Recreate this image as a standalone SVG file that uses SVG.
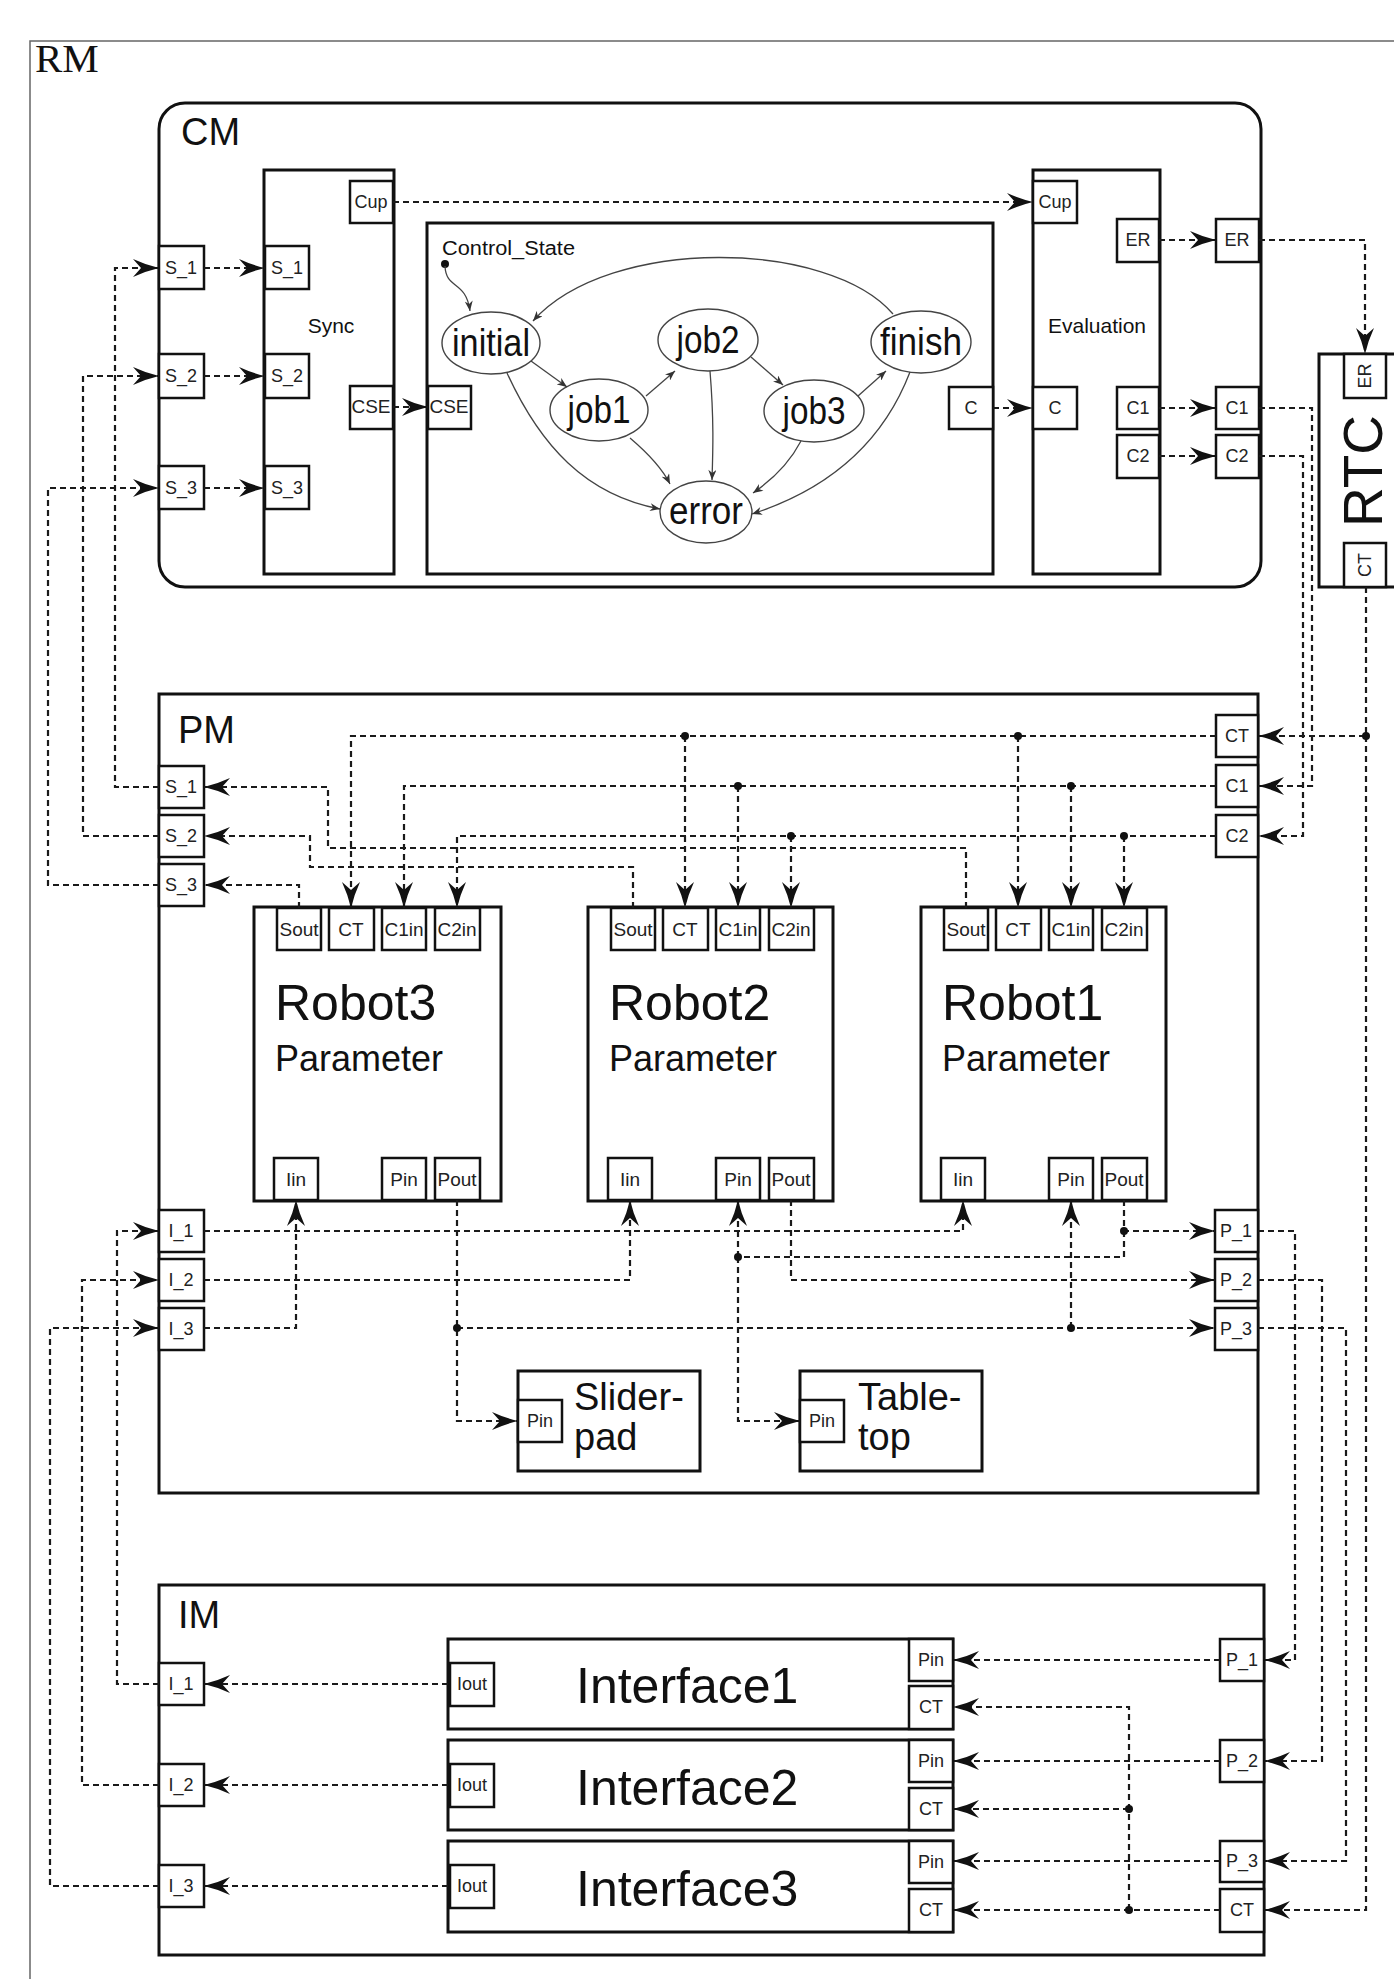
<svg xmlns="http://www.w3.org/2000/svg" width="1394" height="1979" viewBox="0 0 1394 1979">
<style>
.box{fill:#fff;stroke:#111;stroke-width:3}
.port{fill:#fff;stroke:#111;stroke-width:2.5}
.pt{font-family:"Liberation Sans",Arial,sans-serif;font-size:18px;text-anchor:middle;fill:#222}
.pr{font-family:"Liberation Sans",Arial,sans-serif;font-size:19px;text-anchor:middle;fill:#222}
.lbl{font-family:"Liberation Sans",Arial,sans-serif;fill:#111}
.dash{fill:none;stroke:#1a1a1a;stroke-width:2.2;stroke-dasharray:6 4}
.a{marker-end:url(#ah)}
.st{fill:#fff;stroke:#444;stroke-width:1.4}
.tr{fill:none;stroke:#444;stroke-width:1.3;marker-end:url(#sa)}
.sl{font-family:"Liberation Sans",Arial,sans-serif;font-size:38px;text-anchor:middle;fill:#111}
.dot{fill:#111}
</style>
<defs>
<marker id="ah" viewBox="0 0 26 18" refX="26" refY="9" markerWidth="26" markerHeight="18" markerUnits="userSpaceOnUse" orient="auto">
<path d="M0,0 Q13,6 26,9 Q13,12 0,18 L8,9 z" fill="#111"/>
</marker>
<marker id="sa" viewBox="0 0 10 8" refX="10" refY="4" markerWidth="11" markerHeight="8" markerUnits="userSpaceOnUse" orient="auto">
<path d="M0,0 L10,4 L0,8 L3,4 z" fill="#333"/>
</marker>
</defs>
<rect width="1394" height="1979" fill="#fff"/>

<g id="RM">
<rect x="30" y="41" width="1400" height="2000" fill="none" stroke="#666" stroke-width="1.5"/>
<text x="35" y="72" font-family="'Liberation Serif','Times New Roman',serif" font-size="41" fill="#111">RM</text>
</g>

<g id="CM">
<rect x="159" y="103" width="1102" height="484" rx="26" class="box"/>
<text x="181" y="145" class="lbl" font-size="38">CM</text>
<rect x="159" y="246" width="45" height="43" class="port"/><text x="181" y="274" class="pt">S_1</text>
<rect x="159" y="354" width="45" height="44" class="port"/><text x="181" y="382" class="pt">S_2</text>
<rect x="159" y="466" width="45" height="43" class="port"/><text x="181" y="494" class="pt">S_3</text>
<rect x="1216" y="219" width="43" height="43" class="port"/><text x="1237" y="246" class="pt">ER</text>
<rect x="1216" y="387" width="43" height="42" class="port"/><text x="1237" y="414" class="pt">C1</text>
<rect x="1216" y="435" width="43" height="43" class="port"/><text x="1237" y="462" class="pt">C2</text>
</g>

<g id="Sync">
<rect x="264" y="170" width="130" height="404" class="box"/>
<text x="331" y="333" class="lbl" font-size="21" text-anchor="middle">Sync</text>
<rect x="265" y="246" width="44" height="43" class="port"/><text x="287" y="274" class="pt">S_1</text>
<rect x="265" y="354" width="44" height="44" class="port"/><text x="287" y="382" class="pt">S_2</text>
<rect x="265" y="466" width="44" height="43" class="port"/><text x="287" y="494" class="pt">S_3</text>
<rect x="350" y="181" width="43" height="42" class="port"/><text x="371" y="208" class="pt">Cup</text>
<rect x="350" y="386" width="43" height="43" class="port"/><text x="371" y="413" class="pt" textLength="39" lengthAdjust="spacingAndGlyphs">CSE</text>
</g>

<g id="Control_State">
<rect x="427" y="223" width="566" height="351" class="box"/>
<text x="442" y="255" class="lbl" font-size="20" textLength="133" lengthAdjust="spacingAndGlyphs">Control_State</text>
<rect x="428" y="386" width="43" height="43" class="port"/><text x="449" y="413" class="pt" textLength="39" lengthAdjust="spacingAndGlyphs">CSE</text>
<rect x="949" y="387" width="44" height="42" class="port"/><text x="971" y="414" class="pt">C</text>
<circle cx="445" cy="264" r="4" class="dot"/>
<g id="state-initial"><ellipse cx="491" cy="343" rx="49" ry="31" class="st"/><text x="491" y="356" class="sl" textLength="78" lengthAdjust="spacingAndGlyphs">initial</text></g>
<g id="state-job1"><ellipse cx="599" cy="410" rx="49" ry="31" class="st"/><text x="599" y="423" class="sl" textLength="63" lengthAdjust="spacingAndGlyphs">job1</text></g>
<g id="state-job2"><ellipse cx="708" cy="340" rx="50" ry="31" class="st"/><text x="708" y="353" class="sl" textLength="63" lengthAdjust="spacingAndGlyphs">job2</text></g>
<g id="state-job3"><ellipse cx="814" cy="411" rx="50" ry="31" class="st"/><text x="814" y="424" class="sl" textLength="63" lengthAdjust="spacingAndGlyphs">job3</text></g>
<g id="state-finish"><ellipse cx="921" cy="342" rx="50" ry="31" class="st"/><text x="921" y="355" class="sl" textLength="82" lengthAdjust="spacingAndGlyphs">finish</text></g>
<g id="state-error"><ellipse cx="706" cy="512" rx="46" ry="31" class="st"/><text x="706" y="524" class="sl" textLength="74" lengthAdjust="spacingAndGlyphs">error</text></g>
</g>

<g id="Evaluation">
<rect x="1033" y="170" width="127" height="404" class="box"/>
<text x="1097" y="333" class="lbl" font-size="21" text-anchor="middle">Evaluation</text>
<rect x="1033" y="181" width="44" height="42" class="port"/><text x="1055" y="208" class="pt">Cup</text>
<rect x="1117" y="219" width="42" height="43" class="port"/><text x="1138" y="246" class="pt">ER</text>
<rect x="1033" y="387" width="44" height="42" class="port"/><text x="1055" y="414" class="pt">C</text>
<rect x="1117" y="387" width="42" height="42" class="port"/><text x="1138" y="414" class="pt">C1</text>
<rect x="1117" y="435" width="42" height="43" class="port"/><text x="1138" y="462" class="pt">C2</text>
</g>

<g id="RTC">
<rect x="1319" y="354" width="95" height="233" class="box"/>
<rect x="1344" y="354" width="42" height="44" class="port"/>
<text transform="translate(1371,376) rotate(-90)" class="pt" font-size="15">ER</text>
<rect x="1344" y="543" width="42" height="44" class="port"/>
<text transform="translate(1371,565) rotate(-90)" class="pt" font-size="15">CT</text>
<text transform="translate(1382,471) rotate(-90)" class="lbl" font-size="55" text-anchor="middle">RTC</text>
</g>

<g id="PM">
<rect x="159" y="694" width="1099" height="799" class="box"/>
<text x="178" y="743" class="lbl" font-size="38">PM</text>
<rect x="159" y="766" width="45" height="42" class="port"/><text x="181" y="793" class="pt">S_1</text>
<rect x="159" y="815" width="45" height="42" class="port"/><text x="181" y="842" class="pt">S_2</text>
<rect x="159" y="864" width="45" height="42" class="port"/><text x="181" y="891" class="pt">S_3</text>
<rect x="1216" y="715" width="42" height="42" class="port"/><text x="1237" y="742" class="pt">CT</text>
<rect x="1216" y="765" width="42" height="42" class="port"/><text x="1237" y="792" class="pt">C1</text>
<rect x="1216" y="815" width="42" height="42" class="port"/><text x="1237" y="842" class="pt">C2</text>
<rect x="159" y="1210" width="45" height="42" class="port"/><text x="181" y="1237" class="pt">I_1</text>
<rect x="159" y="1259" width="45" height="42" class="port"/><text x="181" y="1286" class="pt">I_2</text>
<rect x="159" y="1308" width="45" height="42" class="port"/><text x="181" y="1335" class="pt">I_3</text>
<rect x="1215" y="1210" width="43" height="42" class="port"/><text x="1236" y="1237" class="pt">P_1</text>
<rect x="1215" y="1259" width="43" height="42" class="port"/><text x="1236" y="1286" class="pt">P_2</text>
<rect x="1215" y="1308" width="43" height="42" class="port"/><text x="1236" y="1335" class="pt">P_3</text>
</g>

<g id="Robot3">
<rect x="254" y="907" width="247" height="294" class="box"/>
<text x="275" y="1020" class="lbl" font-size="50">Robot3</text>
<text x="275" y="1071" class="lbl" font-size="36">Parameter</text>
<rect x="277" y="908" width="44" height="42" class="port"/><text x="299" y="936" class="pr">Sout</text>
<rect x="329" y="908" width="45" height="42" class="port"/><text x="351" y="936" class="pr">CT</text>
<rect x="382" y="908" width="44" height="42" class="port"/><text x="404" y="936" class="pr">C1in</text>
<rect x="435" y="908" width="45" height="42" class="port"/><text x="457" y="936" class="pr">C2in</text>
<rect x="274" y="1158" width="44" height="42" class="port"/><text x="296" y="1186" class="pr">Iin</text>
<rect x="382" y="1158" width="44" height="42" class="port"/><text x="404" y="1186" class="pr">Pin</text>
<rect x="435" y="1158" width="45" height="42" class="port"/><text x="457" y="1186" class="pr">Pout</text>
</g>

<g id="Robot2">
<rect x="588" y="907" width="245" height="294" class="box"/>
<text x="609" y="1020" class="lbl" font-size="50">Robot2</text>
<text x="609" y="1071" class="lbl" font-size="36">Parameter</text>
<rect x="611" y="908" width="44" height="42" class="port"/><text x="633" y="936" class="pr">Sout</text>
<rect x="663" y="908" width="45" height="42" class="port"/><text x="685" y="936" class="pr">CT</text>
<rect x="716" y="908" width="44" height="42" class="port"/><text x="738" y="936" class="pr">C1in</text>
<rect x="769" y="908" width="45" height="42" class="port"/><text x="791" y="936" class="pr">C2in</text>
<rect x="608" y="1158" width="44" height="42" class="port"/><text x="630" y="1186" class="pr">Iin</text>
<rect x="716" y="1158" width="44" height="42" class="port"/><text x="738" y="1186" class="pr">Pin</text>
<rect x="769" y="1158" width="45" height="42" class="port"/><text x="791" y="1186" class="pr">Pout</text>
</g>

<g id="Robot1">
<rect x="921" y="907" width="245" height="294" class="box"/>
<text x="942" y="1020" class="lbl" font-size="50">Robot1</text>
<text x="942" y="1071" class="lbl" font-size="36">Parameter</text>
<rect x="944" y="908" width="44" height="42" class="port"/><text x="966" y="936" class="pr">Sout</text>
<rect x="996" y="908" width="45" height="42" class="port"/><text x="1018" y="936" class="pr">CT</text>
<rect x="1049" y="908" width="44" height="42" class="port"/><text x="1071" y="936" class="pr">C1in</text>
<rect x="1102" y="908" width="45" height="42" class="port"/><text x="1124" y="936" class="pr">C2in</text>
<rect x="941" y="1158" width="44" height="42" class="port"/><text x="963" y="1186" class="pr">Iin</text>
<rect x="1049" y="1158" width="44" height="42" class="port"/><text x="1071" y="1186" class="pr">Pin</text>
<rect x="1102" y="1158" width="45" height="42" class="port"/><text x="1124" y="1186" class="pr">Pout</text>
</g>

<g id="Sliderpad">
<rect x="518" y="1371" width="182" height="100" class="box"/>
<rect x="518" y="1400" width="44" height="42" class="port"/><text x="540" y="1427" class="pt" font-size="16">Pin</text>
<text x="574" y="1410" class="lbl" font-size="38">Slider-</text>
<text x="574" y="1450" class="lbl" font-size="38">pad</text>
</g>

<g id="Tabletop">
<rect x="800" y="1371" width="182" height="100" class="box"/>
<rect x="800" y="1400" width="44" height="42" class="port"/><text x="822" y="1427" class="pt" font-size="16">Pin</text>
<text x="858" y="1410" class="lbl" font-size="38">Table-</text>
<text x="858" y="1450" class="lbl" font-size="38">top</text>
</g>

<g id="IM">
<rect x="159" y="1585" width="1105" height="370" class="box"/>
<text x="178" y="1628" class="lbl" font-size="38">IM</text>
<rect x="159" y="1663" width="45" height="42" class="port"/><text x="181" y="1690" class="pt">I_1</text>
<rect x="159" y="1764" width="45" height="42" class="port"/><text x="181" y="1791" class="pt">I_2</text>
<rect x="159" y="1865" width="45" height="42" class="port"/><text x="181" y="1892" class="pt">I_3</text>
<rect x="1220" y="1639" width="44" height="42" class="port"/><text x="1242" y="1666" class="pt">P_1</text>
<rect x="1220" y="1740" width="44" height="42" class="port"/><text x="1242" y="1767" class="pt">P_2</text>
<rect x="1220" y="1841" width="44" height="41" class="port"/><text x="1242" y="1867" class="pt">P_3</text>
<rect x="1220" y="1889" width="44" height="43" class="port"/><text x="1242" y="1916" class="pt">CT</text>
</g>

<g id="Interface1">
<rect x="448" y="1639" width="505" height="90" class="box"/>
<text x="576" y="1703" class="lbl" font-size="50">Interface1</text>
<rect x="450" y="1663" width="44" height="43" class="port"/><text x="472" y="1690" class="pt" font-size="17">Iout</text>
<rect x="909" y="1639" width="44" height="42" class="port"/><text x="931" y="1666" class="pt">Pin</text>
<rect x="909" y="1686" width="44" height="43" class="port"/><text x="931" y="1713" class="pt">CT</text>
</g>

<g id="Interface2">
<rect x="448" y="1740" width="505" height="90" class="box"/>
<text x="576" y="1805" class="lbl" font-size="50">Interface2</text>
<rect x="450" y="1764" width="44" height="43" class="port"/><text x="472" y="1791" class="pt" font-size="17">Iout</text>
<rect x="909" y="1740" width="44" height="42" class="port"/><text x="931" y="1767" class="pt">Pin</text>
<rect x="909" y="1788" width="44" height="42" class="port"/><text x="931" y="1815" class="pt">CT</text>
</g>

<g id="Interface3">
<rect x="448" y="1841" width="505" height="91" class="box"/>
<text x="576" y="1906" class="lbl" font-size="50">Interface3</text>
<rect x="450" y="1865" width="44" height="43" class="port"/><text x="472" y="1892" class="pt" font-size="17">Iout</text>
<rect x="909" y="1841" width="44" height="42" class="port"/><text x="931" y="1868" class="pt">Pin</text>
<rect x="909" y="1889" width="44" height="43" class="port"/><text x="931" y="1916" class="pt">CT</text>
</g>

<g id="connectors">
<g id="transitions">
<path class="tr" d="M445,266 C446,290 466,280 470,311"/>
<path class="tr" d="M893,314 C830,240 610,235 533,321"/>
<path class="tr" d="M531,361 L567,387"/>
<path class="tr" d="M646,396 L675,371"/>
<path class="tr" d="M751,357 L783,385"/>
<path class="tr" d="M858,396 L886,371"/>
<path class="tr" d="M507,373 C540,445 585,495 660,509"/>
<path class="tr" d="M630,438 C650,455 662,468 670,484"/>
<path class="tr" d="M710,371 C714,420 713,450 712,480"/>
<path class="tr" d="M801,441 C790,462 772,480 753,493"/>
<path class="tr" d="M910,372 C880,450 820,492 752,514"/>
</g>
<g class="dash">
<path class="a" d="M159,787 H115 V268 H159"/>
<path class="a" d="M159,836 H83 V376 H159"/>
<path class="a" d="M159,885 H48 V488 H159"/>
<path class="a" d="M204,268 H265"/>
<path class="a" d="M204,376 H265"/>
<path class="a" d="M204,488 H265"/>
<path class="a" d="M393,202 H1033"/>
<path class="a" d="M393,407 H428"/>
<path class="a" d="M993,408 H1033"/>
<path class="a" d="M1159,240 H1216"/>
<path class="a" d="M1159,408 H1216"/>
<path class="a" d="M1159,456 H1216"/>
<path class="a" d="M1259,240 H1365 V354"/>
<path class="a" d="M1259,408 H1312 V786 H1258"/>
<path class="a" d="M1259,456 H1303 V836 H1258"/>
<path class="a" d="M1366,587 V736 H1258"/>
<path class="a" d="M1366,736 V1910 H1264"/>
<path class="a" d="M1216,736 H351 V908"/>
<path class="a" d="M685,736 V908"/>
<path class="a" d="M1018,736 V908"/>
<path class="a" d="M1216,786 H404 V908"/>
<path class="a" d="M738,786 V908"/>
<path class="a" d="M1071,786 V908"/>
<path class="a" d="M1216,836 H457 V908"/>
<path class="a" d="M791,836 V908"/>
<path class="a" d="M1124,836 V908"/>
<path class="a" d="M966,908 V848 H328 V787 H204"/>
<path class="a" d="M633,908 V867 H310 V836 H204"/>
<path class="a" d="M299,908 V885 H204"/>
<path class="a" d="M204,1231 H963 V1200"/>
<path class="a" d="M204,1280 H630 V1200"/>
<path class="a" d="M204,1328 H296 V1200"/>
<path class="a" d="M457,1200 V1421 H518"/>
<path class="a" d="M457,1328 H1215"/>
<path class="a" d="M1071,1328 V1200"/>
<path class="a" d="M791,1200 V1280 H1215"/>
<path class="a" d="M1124,1200 V1231 H1215"/>
<path d="M1124,1231 V1257 H738"/>
<path class="a" d="M738,1257 V1200"/>
<path class="a" d="M738,1257 V1421 H800"/>
<path class="a" d="M448,1684 H204"/>
<path class="a" d="M448,1785 H204"/>
<path class="a" d="M448,1886 H204"/>
<path class="a" d="M159,1684 H117 V1231 H159"/>
<path class="a" d="M159,1785 H82 V1280 H159"/>
<path class="a" d="M159,1886 H50 V1328 H159"/>
<path class="a" d="M1258,1231 H1295 V1660 H1264"/>
<path class="a" d="M1258,1280 H1322 V1761 H1264"/>
<path class="a" d="M1258,1328 H1346 V1861 H1264"/>
<path class="a" d="M1220,1660 H953"/>
<path class="a" d="M1220,1761 H953"/>
<path class="a" d="M1220,1861 H953"/>
<path class="a" d="M1220,1910 H953"/>
<path class="a" d="M1129,1910 V1707 H953"/>
<path class="a" d="M1129,1809 H953"/>
</g>
<g class="dot">
<circle cx="1366" cy="736" r="4"/>
<circle cx="685" cy="736" r="4"/>
<circle cx="1018" cy="736" r="4"/>
<circle cx="738" cy="786" r="4"/>
<circle cx="1071" cy="786" r="4"/>
<circle cx="791" cy="836" r="4"/>
<circle cx="1124" cy="836" r="4"/>
<circle cx="457" cy="1328" r="4"/>
<circle cx="1071" cy="1328" r="4"/>
<circle cx="1124" cy="1231" r="4"/>
<circle cx="738" cy="1257" r="4"/>
<circle cx="1129" cy="1910" r="4"/>
<circle cx="1129" cy="1809" r="4"/>
</g>
</g>
</svg>
